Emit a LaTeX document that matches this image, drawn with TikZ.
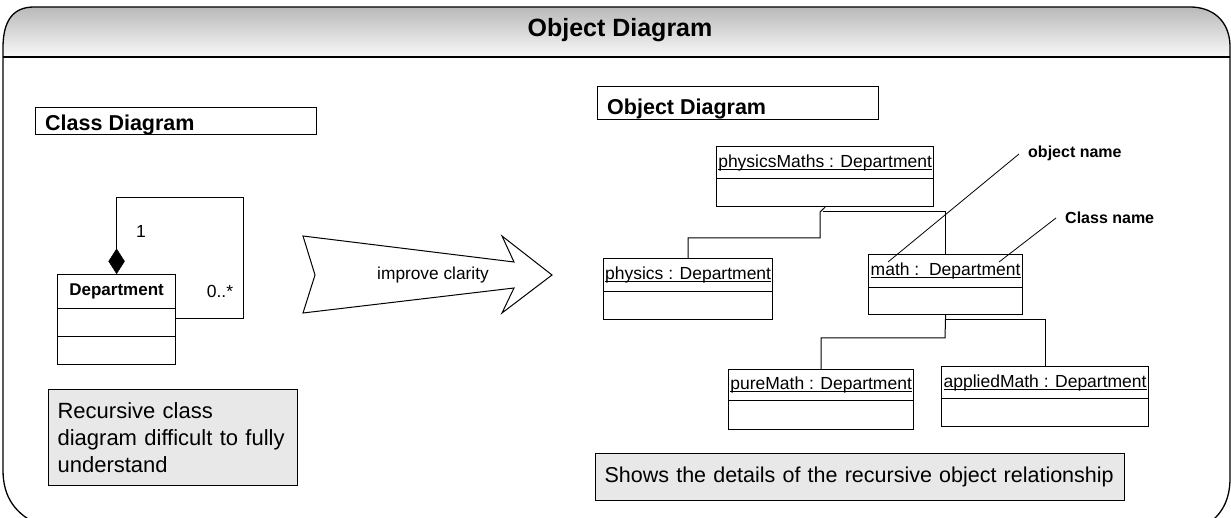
\documentclass[tikz,border=0pt]{standalone}
\usepackage{fontspec}
\setmainfont{Liberation Sans}
\usetikzlibrary{shapes.geometric}
\newcommand\undl[1]{\setbox0\hbox{#1}\rlap{\copy0}\rule[-2.3pt]{\wd0}{0.9pt}}
\begin{document}
\begin{tikzpicture}[x=1pt,y=-1pt,
  box/.style={draw, line width=1.2, inner sep=0, anchor=north west},
  fobj/.style={font=\fontsize{17.5}{21}\selectfont},
  fbig/.style={font=\fontsize{22}{27}\selectfont},
  note/.style={box, fill=gray!18, fbig, align=left, inner xsep=9},
  conn/.style={line width=1},
  annot/.style={font=\bfseries\fontsize{16}{19}\selectfont, anchor=west, inner sep=0}]
\useasboundingbox (0,0) rectangle (1231,518);
\begin{scope}
\clip (0,0) rectangle (1231,518);
\shade[top color=gray!55, bottom color=gray!5]
  (3,57) -- (3,48) .. controls (3,22) and (12,7) .. (34,7) -- (1190,7)
  .. controls (1212,7) and (1229,20) .. (1230,45) -- (1230,57) -- cycle;
\draw[line width=1.3] (42,526) .. controls (15,515) and (3,497) .. (3,470) -- (3,48)
  .. controls (3,22) and (12,7) .. (34,7) -- (1190,7)
  .. controls (1212,7) and (1229,20) .. (1230,45) -- (1230,478)
  .. controls (1230,500) and (1222,515) .. (1205,526);
\draw[line width=2] (3,57) -- (1230,57);
\end{scope}
\node[font=\bfseries\fontsize{25}{30}\selectfont] (title) at (620,30) {Object Diagram};

% ---------- class diagram ----------
\node[box, minimum width=281, minimum height=27] (cdl) at (35,107) {};
\node[font=\bfseries\fontsize{21.5}{26}\selectfont, anchor=base west, inner sep=0] (cdt) at (45,131) {Class Diagram};

\node[box, minimum width=118, minimum height=34, font=\bfseries\fontsize{17}{20}\selectfont] (dep) at (57,274) {Department};
\node[box, minimum width=118, minimum height=28] (depa) at (57,308) {};
\node[box, minimum width=118, minimum height=28] (depb) at (57,336) {};
\node[diamond, fill=black, draw, inner sep=0, minimum width=16, minimum height=25, anchor=south] (dia) at (dep.north) {};
\coordinate (lt) at (243,198);
\coordinate (lb) at (243,319);
\draw[conn] (dia.north) |- (lt) -- (lb) -- (lb -| depa.east);
\node[fobj] (m1) at (141,231) {1};
\node[fobj] (m2) at (220,291) {0..*};

\node[note, minimum width=249, minimum height=96, text width=231] (n1) at (48,389)
  {Recursive class\\diagram difficult to fully\\understand};

% ---------- arrow ----------
\draw[line width=1] (303,236) -- (514,262) -- (502,236) -- (552,275) -- (502,313)
  -- (514,288) -- (303,313) -- (315,275) -- cycle;
\node[font=\fontsize{17.3}{21}\selectfont] (ic) at (433,275) {improve clarity};

% ---------- object diagram ----------
\node[box, minimum width=281, minimum height=33] (odl) at (597,86) {};
\node[font=\bfseries\fontsize{21.5}{26}\selectfont, anchor=base west, inner sep=0] (odt) at (607,115) {Object Diagram};

\node[box, fobj, minimum width=217, minimum height=32] (pm) at (716,146) {\undl{physicsMaths : Department}};
\node[box, minimum width=217, minimum height=28] (pmb) at (716,178) {};

\node[box, fobj, minimum width=169, minimum height=33] (phy) at (603,258) {\undl{physics : Department}};
\node[box, minimum width=169, minimum height=28] (phyb) at (603,291) {};

\node[box, fobj, minimum width=154, minimum height=33] (math) at (868,254) {\undl{math :\ \ Department}};
\node[box, minimum width=154, minimum height=27] (mathb) at (868,287) {};

\node[box, fobj, minimum width=185, minimum height=31] (pure) at (728,369) {\undl{pureMath : Department}};
\node[box, minimum width=185, minimum height=29] (pureb) at (728,400) {};

\node[box, fobj, minimum width=207, minimum height=32] (appl) at (941,366) {\undl{appliedMath : Department}};
\node[box, minimum width=207, minimum height=28] (applb) at (941,398) {};

\coordinate (k1) at (820,212);
\coordinate (k1b) at (820,238);
\coordinate (k2) at (823,212);
\coordinate (k3) at (945,338);
\coordinate (k4) at (945,320);
\draw[conn] (pmb.south) -- (k1) -- (k1b) -| (phy.north);
\draw[conn] (k2) -| (math.north);
\draw[conn] (mathb.south) -- (k3) -| (pure.north);
\draw[conn] (k4) -| (appl.north);

\node[annot] (on) at (1028,153) {object name};
\node[annot] (cn) at (1065,218) {Class name};
\coordinate (onp) at (888,262);
\coordinate (onq) at (1019,154);
\coordinate (cnp) at (999,262);
\coordinate (cnq) at (1056,218);
\draw[line width=0.8] (onq) -- (onp);
\draw[line width=0.8] (cnq) -- (cnp);

\node[note, minimum width=529, minimum height=47, text width=511, font=\fontsize{21.5}{26}\selectfont] (n2) at (595,453)
  {\mbox{Shows the details of the recursive object relationship}};
\end{tikzpicture}
\end{document}
